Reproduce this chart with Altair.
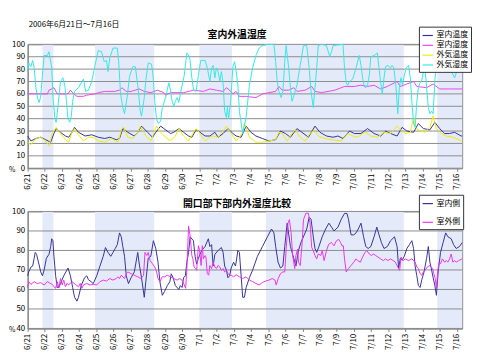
import altair as alt
import pandas as pd

FONT = "Noto Sans CJK JP"
DATE_RANGE_TEXT = "2006年6月21日～7月16日"
TOP_TITLE = "室内外温湿度"
BOTTOM_TITLE = "開口部下部内外湿度比較"
PCT = "%"

DAY_LABELS = ["6/21", "6/22", "6/23", "6/24", "6/25", "6/26", "6/27", "6/28", "6/29", "6/30",
              "7/1", "7/2", "7/3", "7/4", "7/5", "7/6", "7/7", "7/8", "7/9", "7/10",
              "7/11", "7/12", "7/13", "7/14", "7/15", "7/16"]
X_MAX_DAY = 25.3

# shaded periods (days from 6/21 0:00)
BAND_START = [0.86, 3.92, 10.0, 13.87, 23.85]
BAND_END = [1.50, 7.37, 11.9, 21.9, 25.3]

TOP_SERIES = ["室内温度", "室内湿度", "外気温度", "外気湿度"]
TOP_COLORS = ["#333399", "#EE44EE", "#EEEE00", "#33E8E8"]
BOTTOM_SERIES = ["室内側", "室外側"]
BOTTOM_COLORS = ["#333399", "#EE33EE"]
TOP_TICKS = [0, 10, 20, 30, 40, 50, 60, 70, 80, 90, 100]
BOTTOM_TICKS = [40, 50, 60, 70, 80, 90, 100]

# (day, value) pairs
IN_TEMP = [(0, 26), (0.19, 22), (0.48, 24), (0.76, 25), (1.05, 23), (1.34, 21), (1.53, 28), (1.66, 32),
           (1.91, 29), (2.20, 26), (2.39, 25), (2.58, 29), (2.73, 33), (2.96, 29), (3.35, 26), (3.73, 27),
           (4.11, 25), (4.49, 24), (4.78, 25), (5.16, 23), (5.35, 24), (5.54, 32), (5.83, 29), (6.21, 26),
           (6.41, 29), (6.63, 34), (6.98, 29), (7.27, 25), (7.46, 29), (7.74, 34), (7.93, 32), (8.32, 28),
           (8.51, 29), (8.80, 32), (9.08, 29), (9.37, 26), (9.56, 25), (9.81, 31), (10.04, 29), (10.33, 26),
           (10.61, 26), (10.90, 29), (11.09, 25), (11.38, 28), (11.66, 32), (11.95, 28), (12.14, 26),
           (12.43, 25), (12.72, 34), (13.00, 29), (13.29, 26), (13.67, 24), (14.05, 22), (14.44, 23),
           (14.72, 30), (15.01, 28), (15.30, 25), (15.68, 32), (15.97, 29), (16.35, 25), (16.73, 34),
           (17.02, 29), (17.40, 26), (17.78, 25), (18.07, 26), (18.36, 24), (18.74, 30), (19.02, 28),
           (19.41, 28), (19.79, 32), (20.17, 28), (20.55, 26), (20.84, 30), (21.13, 28), (21.51, 26),
           (21.80, 33), (22.08, 30), (22.47, 29), (22.75, 36), (23.04, 32), (23.42, 31), (23.71, 37),
           (23.99, 32), (24.28, 28), (24.57, 28), (24.86, 29), (25.24, 26), (25.30, 26)]

IN_HUM = [(0, 60), (1.15, 60), (1.24, 63), (1.40, 64), (1.53, 65), (1.72, 60), (2.35, 60), (2.49, 63),
          (2.68, 60), (2.87, 58), (3.25, 58), (3.44, 59), (3.92, 60), (4.11, 61), (4.49, 62), (5.07, 62),
          (5.35, 63), (5.49, 65), (5.74, 62), (6.02, 62), (6.50, 64), (6.79, 62), (7.17, 61), (7.55, 63),
          (7.93, 61), (8.03, 59), (8.32, 61), (9.08, 61), (9.66, 63), (10.23, 62), (10.61, 64), (10.99, 63),
          (11.38, 62), (11.57, 65), (11.76, 63), (11.95, 60), (12.14, 62), (12.33, 58), (12.72, 58),
          (13.29, 57), (13.67, 60), (14.05, 61), (14.44, 62), (14.63, 66), (14.82, 63), (15.20, 63),
          (15.49, 65), (15.68, 62), (16.16, 63), (16.54, 66), (16.73, 62), (17.11, 61), (17.88, 63),
          (18.45, 66), (19.02, 66), (19.41, 67), (19.79, 66), (20.17, 67), (20.55, 64), (20.94, 66),
          (21.51, 70), (21.70, 66), (22.08, 68), (22.47, 70), (22.66, 66), (23.23, 65), (23.61, 68),
          (23.99, 64), (24.57, 64), (25.30, 64)]

OUT_TEMP = [(0, 21), (0.19, 19), (0.48, 24), (0.76, 25), (1.05, 22), (1.24, 18), (1.43, 28), (1.66, 33),
            (1.91, 28), (2.20, 23), (2.39, 21), (2.58, 29), (2.73, 32), (2.96, 27), (3.25, 22), (3.54, 25),
            (3.82, 25), (4.11, 22), (4.49, 21), (4.88, 24), (5.26, 21), (5.49, 32), (5.60, 33), (5.83, 25),
            (6.12, 24), (6.41, 29), (6.56, 34), (6.88, 26), (7.17, 22), (7.36, 29), (7.51, 34), (7.74, 29),
            (8.03, 25), (8.32, 22), (8.60, 26), (8.80, 32), (9.08, 26), (9.37, 22), (9.66, 29), (9.81, 32),
            (10.04, 28), (10.33, 22), (10.61, 25), (10.80, 26), (11.09, 25), (11.38, 30), (11.57, 34),
            (11.85, 28), (12.14, 22), (12.33, 25), (12.52, 29), (12.62, 36), (12.72, 33), (12.91, 25),
            (13.29, 21), (13.67, 21), (14.05, 22), (14.44, 23), (14.63, 29), (14.82, 28), (15.11, 22),
            (15.39, 28), (15.58, 31), (15.87, 25), (16.16, 22), (16.44, 28), (16.69, 31), (16.92, 26),
            (17.30, 24), (17.69, 23), (18.26, 22), (18.64, 28), (18.93, 26), (19.22, 25), (19.50, 28),
            (19.69, 29), (19.98, 26), (20.36, 25), (20.75, 29), (21.13, 28), (21.51, 34), (21.70, 31),
            (21.99, 28), (22.28, 29), (22.47, 41), (22.56, 33), (22.85, 30), (23.14, 29), (23.42, 33),
            (23.61, 42), (23.80, 32), (24.09, 28), (24.38, 26), (24.76, 25), (25.30, 22)]

OUT_HUM = [(0, 78), (0.06, 85), (0.19, 82), (0.29, 87), (0.38, 81), (0.48, 65), (0.57, 57), (0.67, 53),
           (0.76, 58), (0.86, 75), (0.96, 91), (1.15, 91), (1.24, 94), (1.40, 81), (1.49, 54), (1.59, 40),
           (1.66, 37), (1.78, 52), (1.91, 70), (2.05, 73), (2.16, 67), (2.26, 54), (2.35, 40), (2.45, 37),
           (2.54, 42), (2.62, 54), (2.73, 62), (2.96, 65), (3.25, 72), (3.38, 62), (3.54, 63), (3.73, 70),
           (3.92, 83), (4.11, 95), (4.30, 94), (4.46, 86), (4.59, 87), (4.68, 78), (4.78, 89), (4.97, 97),
           (5.22, 97), (5.30, 86), (5.41, 60), (5.54, 49), (5.64, 44), (5.79, 57), (5.93, 74), (6.12, 82),
           (6.27, 82), (6.41, 67), (6.56, 46), (6.63, 42), (6.79, 57), (6.88, 71), (7.02, 85), (7.21, 84),
           (7.30, 75), (7.40, 54), (7.50, 40), (7.61, 36), (7.74, 38), (7.84, 49), (8.03, 57), (8.22, 69),
           (8.32, 63), (8.41, 54), (8.51, 50), (8.60, 54), (8.70, 57), (8.80, 53), (8.99, 67), (9.12, 75),
           (9.27, 93), (9.43, 90), (9.56, 73), (9.66, 63), (9.81, 62), (9.94, 75), (10.08, 87), (10.33, 87),
           (10.46, 81), (10.61, 70), (10.71, 81), (10.80, 83), (10.90, 73), (10.99, 81), (11.09, 78),
           (11.19, 70), (11.28, 78), (11.38, 69), (11.47, 46), (11.57, 41), (11.63, 49), (11.70, 40),
           (11.82, 54), (11.95, 82), (12.05, 86), (12.14, 78), (12.24, 67), (12.33, 46), (12.52, 28),
           (12.72, 41), (12.91, 67), (13.10, 81), (13.29, 91), (13.48, 97), (13.67, 99), (13.96, 100),
           (14.34, 100), (14.44, 86), (14.53, 70), (14.63, 62), (14.76, 57), (14.86, 62), (14.97, 86),
           (15.05, 99), (15.20, 81), (15.30, 65), (15.39, 54), (15.51, 59), (15.68, 67), (15.87, 83),
           (16.06, 99), (16.25, 99), (16.39, 81), (16.50, 62), (16.63, 49), (16.73, 65), (16.83, 81),
           (16.92, 99), (17.11, 100), (17.40, 99), (17.59, 90), (17.69, 94), (17.78, 99), (18.36, 100),
           (18.45, 81), (18.55, 69), (18.64, 67), (18.74, 70), (18.93, 72), (19.12, 81), (19.31, 91),
           (19.41, 83), (19.50, 73), (19.60, 66), (19.69, 65), (19.79, 67), (19.89, 75), (19.98, 90),
           (20.17, 91), (20.36, 93), (20.46, 81), (20.55, 70), (20.65, 60), (20.75, 73), (20.84, 82),
           (20.98, 83), (21.13, 81), (21.22, 83), (21.32, 81), (21.45, 65), (21.55, 44), (21.64, 65),
           (21.74, 73), (21.83, 67), (21.93, 75), (22.05, 81), (22.18, 83), (22.28, 73), (22.37, 54),
           (22.47, 36), (22.56, 33), (22.66, 54), (22.75, 65), (22.85, 69), (22.95, 71), (23.04, 78),
           (23.14, 81), (23.23, 65), (23.33, 49), (23.42, 44), (23.52, 46), (23.61, 44), (23.71, 70),
           (23.80, 87), (23.90, 89), (24.10, 92), (24.30, 88), (24.57, 81), (24.86, 73), (25.05, 81),
           (25.24, 87), (25.30, 87)]

IN_SIDE = [(0, 67), (0.06, 69), (0.19, 71.5), (0.29, 72), (0.38, 76), (0.44, 79), (0.52, 78), (0.63, 74),
           (0.76, 69), (0.86, 67), (0.96, 70), (1.09, 76), (1.24, 78), (1.34, 82), (1.40, 86), (1.47, 85),
           (1.53, 77), (1.63, 67), (1.72, 61), (1.82, 61), (1.91, 63), (2.10, 67), (2.35, 71), (2.49, 67),
           (2.62, 61), (2.73, 56), (2.87, 54), (2.96, 56), (3.12, 62), (3.31, 66), (3.44, 67), (3.54, 65),
           (3.69, 64), (3.82, 63), (4.02, 67), (4.21, 72), (4.40, 77), (4.53, 81.5), (4.68, 79), (4.84, 77),
           (4.97, 79), (5.10, 81), (5.22, 83), (5.35, 89), (5.45, 87), (5.54, 82), (5.64, 77), (5.74, 67),
           (5.87, 63), (6.02, 66), (6.21, 69), (6.41, 79), (6.50, 73), (6.63, 66), (6.79, 56), (6.88, 64),
           (7.02, 76), (7.17, 77), (7.32, 85), (7.46, 81), (7.59, 74), (7.70, 64), (7.84, 57), (7.97, 59),
           (8.13, 62), (8.28, 64), (8.36, 68), (8.47, 66), (8.60, 62), (8.80, 60), (8.89, 62), (8.99, 61),
           (9.08, 66), (9.18, 67), (9.27, 74), (9.37, 79), (9.46, 87), (9.65, 85), (9.75, 77), (9.84, 73),
           (9.94, 76), (10.13, 80), (10.33, 82), (10.52, 86), (10.61, 82), (10.71, 83), (10.80, 72),
           (10.90, 78), (11.09, 80), (11.28, 81.5), (11.38, 79), (11.47, 72), (11.57, 70), (11.66, 66),
           (11.76, 67), (11.85, 71), (11.99, 74), (12.10, 72), (12.14, 74), (12.24, 80), (12.33, 79),
           (12.52, 56), (12.62, 56), (12.72, 61), (12.91, 66), (13.10, 70), (13.38, 77), (13.67, 82),
           (13.96, 87), (14.20, 91), (14.34, 89), (14.44, 82), (14.58, 74), (14.72, 71), (14.86, 72),
           (14.97, 82), (15.11, 94), (15.30, 82), (15.62, 72), (15.77, 80), (15.91, 84), (16.25, 91),
           (16.39, 97), (16.50, 96), (16.63, 87), (16.73, 81), (16.83, 79), (16.96, 82), (17.15, 87),
           (17.35, 91), (17.54, 94), (17.69, 92), (17.84, 90), (18.07, 92), (18.26, 96), (18.45, 99),
           (18.59, 99), (18.68, 96), (18.83, 88), (18.99, 88), (19.12, 89), (19.25, 91), (19.41, 94),
           (19.56, 87), (19.69, 82), (19.83, 81), (19.98, 82), (20.17, 87), (20.33, 92), (20.46, 88),
           (20.60, 84), (20.75, 81), (20.94, 82), (21.13, 85), (21.36, 87), (21.51, 82), (21.60, 71),
           (21.70, 76), (21.80, 75), (21.93, 77), (22.08, 81), (22.23, 83), (22.37, 85), (22.47, 81),
           (22.56, 72), (22.66, 67), (22.75, 62), (22.85, 61), (22.95, 65), (23.08, 69), (23.23, 76),
           (23.33, 82), (23.42, 74), (23.52, 70), (23.61, 66), (23.71, 62), (23.80, 57), (23.90, 69),
           (24.04, 79), (24.19, 84), (24.34, 89), (24.47, 87), (24.66, 86), (24.80, 83), (24.95, 81),
           (25.14, 82), (25.30, 84)]

OUT_SIDE = [(0, 61), (0.06, 64), (0.19, 62.6), (0.38, 64), (0.57, 63), (0.76, 63.5), (0.96, 62.3),
            (1.15, 64), (1.34, 63), (1.43, 62.6), (1.53, 61.4), (1.63, 60.6), (1.72, 64), (1.82, 60.9),
            (1.91, 65.6), (2.01, 62.3), (2.10, 64.8), (2.20, 61.4), (2.29, 63.1), (2.39, 62.3), (2.58, 64),
            (2.77, 62.6), (2.96, 61.4), (3.06, 63.1), (3.15, 60.6), (3.25, 62.3), (3.44, 63.1), (3.63, 62.3),
            (3.82, 62.6), (4.02, 62.3), (4.21, 64), (4.40, 64.8), (4.59, 64.3), (4.78, 65.6), (4.97, 64.8),
            (5.16, 65.6), (5.26, 66.5), (5.35, 65.6), (5.45, 67.3), (5.64, 65.6), (5.74, 68.1), (5.83, 69),
            (6.02, 68.1), (6.21, 67.3), (6.41, 66.5), (6.60, 65.6), (6.75, 67.3), (6.83, 79), (6.94, 77.4),
            (7.02, 79), (7.13, 74.8), (7.27, 73.2), (7.40, 71.5), (7.51, 69), (7.59, 65.6), (7.70, 64),
            (7.84, 66.5), (7.97, 66.5), (8.13, 67.3), (8.32, 66.5), (8.51, 65.6), (8.70, 64.8), (8.85, 65.6),
            (8.99, 64.8), (9.12, 62.3), (9.20, 60.6), (9.27, 70.7), (9.37, 92.4), (9.46, 87.4), (9.56, 77.4),
            (9.62, 75.7), (9.69, 71.5), (9.79, 70.7), (9.84, 69.8), (9.94, 82.4), (10.00, 80.7),
            (10.10, 72.3), (10.17, 82.4), (10.23, 75.7), (10.33, 77.4), (10.38, 76.6), (10.46, 68.1),
            (10.54, 67.3), (10.61, 72.3), (10.71, 70.7), (10.80, 74), (10.90, 71.5), (10.99, 70.7),
            (11.09, 72.3), (11.19, 71.5), (11.28, 69.8), (11.38, 70.7), (11.47, 69), (11.57, 69.8),
            (11.66, 68.1), (11.76, 67.3), (11.85, 67.3), (11.99, 66.5), (12.14, 67.5), (12.33, 66.5),
            (12.52, 65.6), (12.72, 66.5), (12.91, 64.8), (13.10, 64), (13.29, 63.1), (13.48, 62.3),
            (13.67, 63.6), (13.86, 64.3), (14.05, 64.8), (14.24, 65.6), (14.40, 64.8), (14.47, 62.3),
            (14.59, 65.6), (14.72, 68.1), (14.86, 69), (14.97, 69), (15.05, 80.7), (15.16, 94.1),
            (15.24, 95.8), (15.34, 89.1), (15.43, 77.4), (15.55, 70.7), (15.62, 77.4), (15.72, 80.7),
            (15.77, 74), (15.87, 72.3), (15.97, 82.4), (16.06, 95.8), (16.20, 99.1), (16.35, 99.1),
            (16.44, 94.1), (16.54, 81.5), (16.63, 79.9), (16.73, 77.4), (16.83, 75.7), (16.92, 78.2),
            (17.07, 77.4), (17.15, 79.9), (17.26, 74.8), (17.40, 79.9), (17.53, 83.2), (17.69, 84.1),
            (17.84, 82.4), (17.97, 84.9), (18.11, 85.7), (18.22, 84.1), (18.30, 82.4), (18.38, 82.4),
            (18.45, 75.7), (18.55, 69), (18.68, 70.7), (18.83, 72.3), (18.99, 74), (19.12, 75.7),
            (19.22, 74.8), (19.37, 74), (19.50, 76.6), (19.64, 79), (19.75, 79.9), (19.89, 78.2),
            (20.02, 77.4), (20.13, 78.2), (20.27, 77.4), (20.40, 76.6), (20.55, 75.7), (20.71, 74.8),
            (20.84, 75.7), (20.98, 74.8), (21.13, 75.7), (21.28, 74.8), (21.41, 74), (21.55, 71.5),
            (21.66, 69.8), (21.74, 76.6), (21.85, 74.8), (21.99, 75.7), (22.18, 74.8), (22.37, 75.7),
            (22.56, 74), (22.66, 71.5), (22.75, 70.7), (22.85, 68.1), (22.95, 67.3), (23.04, 69),
            (23.14, 69.8), (23.27, 71.5), (23.42, 72.3), (23.58, 70.7), (23.65, 68.1), (23.73, 65.6),
            (23.80, 60.6), (23.88, 69.8), (23.96, 74), (24.04, 73.2), (24.15, 75.7), (24.28, 74),
            (24.38, 74.8), (24.47, 74), (24.57, 75.7), (24.66, 78.2), (24.76, 74), (24.86, 74.8),
            (24.95, 74), (25.10, 74.8), (25.30, 75.7)]


def series_frame(names, series_list):
    rows = []
    for name, pairs in zip(names, series_list):
        for t, v in pairs:
            rows.append({"t": t, "v": v, "s": name})
    return pd.DataFrame(rows)


top_df = series_frame(TOP_SERIES, [IN_TEMP, IN_HUM, OUT_TEMP, OUT_HUM])
bot_df = series_frame(BOTTOM_SERIES, [IN_SIDE, OUT_SIDE])
bands_df = pd.DataFrame({"s": BAND_START, "e": BAND_END})

W, H1, H2 = 442, 126, 119
GRID = "#8C8C8C"
BAND = "#E4EAFA"
label_expr = "[" + ",".join("'%s'" % d for d in DAY_LABELS) + "][datum.value]"


def x_enc(field):
    return alt.X(field + ":Q", scale=alt.Scale(domain=[0, X_MAX_DAY], nice=False, zero=False),
                 axis=alt.Axis(values=list(range(len(DAY_LABELS))), labelExpr=label_expr, labelAngle=270,
                               labelFont=FONT, labelFontSize=8, labelColor="#000000", labelPadding=2,
                               tickSize=3, tickColor="#808080", domainColor="#808080", grid=False,
                               title=None, labelOverlap=False, labelFlush=False, labelBound=False))


def y_enc(field, lo, ticks):
    return alt.Y(field + ":Q", scale=alt.Scale(domain=[lo, 100], nice=False, zero=False),
                 axis=alt.Axis(values=ticks, labelFont=FONT, labelFontSize=8, labelColor="#000000",
                               ticks=False, labelPadding=3, domainColor="#808080", grid=False, title=None))


def legend(lx, ly, row_pad):
    return alt.Legend(title=None, orient="none", legendX=lx, legendY=ly, direction="vertical",
                      fillColor="#FFFFFF", strokeColor="#333333", padding=3, symbolType="stroke",
                      symbolSize=110, symbolStrokeWidth=1.2, labelFont=FONT, labelFontSize=8,
                      labelColor="#000000", rowPadding=row_pad, labelOffset=3, cornerRadius=0)


def text_layer(txt, x, y, size=8, weight="normal", align="left"):
    return alt.Chart(pd.DataFrame({"t": [txt]})).mark_text(
        font=FONT, fontSize=size, fontWeight=weight, align=align, baseline="middle", color="#000000"
    ).encode(text="t:N", x=alt.value(x), y=alt.value(y))


def panel(df, lo, ticks, height, names, colors, lx, ly, row_pad, title, title_y, extra):
    bands = alt.Chart(bands_df).mark_rect(color=BAND).encode(x=x_enc("s"), x2="e:Q")
    grid = alt.Chart(pd.DataFrame({"g": ticks})).mark_rule(color=GRID, strokeWidth=1).encode(
        y=y_enc("g", lo, ticks))
    lines = alt.Chart(df).mark_line(strokeWidth=1).encode(
        x=x_enc("t"), y=y_enc("v", lo, ticks),
        color=alt.Color("s:N", scale=alt.Scale(domain=names, range=colors), legend=legend(lx, ly, row_pad)),
    )
    layers = [bands, grid, lines,
              text_layer(title, 213, title_y, size=10, weight="bold", align="center"),
              text_layer(PCT, -19, height + 2, size=7)] + extra
    return alt.layer(*layers).properties(width=W, height=height)


top = panel(top_df, 0, TOP_TICKS, H1, TOP_SERIES, TOP_COLORS, 398, -18, 0, TOP_TITLE, -9,
            [text_layer(DATE_RANGE_TEXT, 1, -20)])
bottom = panel(bot_df, 40, BOTTOM_TICKS, H2, BOTTOM_SERIES, BOTTOM_COLORS, 398, -17, 9, BOTTOM_TITLE, -8, [])

chart = alt.vconcat(top, bottom, spacing=44, bounds="flush").resolve_scale(
    color="independent").resolve_legend(color="independent").properties(
    padding={"left": 0, "right": 0, "top": 9, "bottom": 0}, background="white"
).configure_view(stroke="#808080", strokeWidth=1)

chart.save("out.html", embed_options={"renderer": "svg", "actions": False})
